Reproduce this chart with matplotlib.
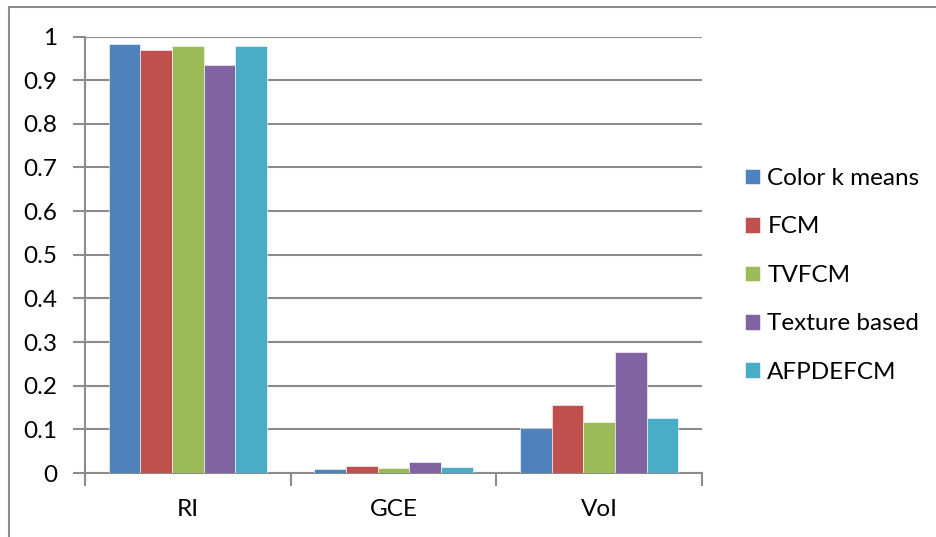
import matplotlib
matplotlib.use('AGG')
import matplotlib.pyplot as plt
import numpy as np
from matplotlib.lines import Line2D

plt.rcParams['font.family'] = ['Lato', 'DejaVu Sans']

categories = ['RI', 'GCE', 'VoI']
series_names = ['Color k means', 'FCM', 'TVFCM', 'Texture based', 'AFPDEFCM']
color_k_means = [0.982, 0.010, 0.104]
fcm = [0.969, 0.015, 0.155]
tvfcm = [0.979, 0.011, 0.117]
texture_based = [0.935, 0.026, 0.277]
afpdefcm = [0.978, 0.013, 0.125]
colors = ['#4F81BD', '#C0504D', '#9BBB59', '#8064A2', '#4BACC6']

series = [color_k_means, fcm, tvfcm, texture_based, afpdefcm]
grid_color = '#8c8c8c'
fs = 17.5

fig = plt.figure(figsize=(9.36, 5.37), dpi=100)
ax = fig.add_axes([85/936, 1 - 473/537, (702 - 85)/936, (473 - 36.5)/537])

x = np.arange(len(categories))
bar_w = 1 / 6.5
for i, (vals, name, c) in enumerate(zip(series, series_names, colors)):
    ax.bar(x + (i - 2) * bar_w, vals, bar_w, color=c, label=name,
           edgecolor='white', linewidth=0.4, zorder=3)

ax.set_xlim(-0.5, 2.5)
ax.set_ylim(0, 1)
ax.set_yticks(np.arange(0, 1.01, 0.1))
ax.set_yticklabels(['0'] + ['%.1f' % v for v in np.arange(0.1, 0.95, 0.1)] + ['1'])
ax.yaxis.grid(True, color=grid_color, linewidth=1.5, zorder=0)

# category labels centred, tick marks on the boundaries
ax.set_xticks(x)
ax.set_xticklabels(categories)
ax.set_xticks([-0.5, 0.5, 1.5, 2.5], minor=True)
ax.tick_params(axis='x', which='major', length=0, pad=19, labelsize=fs)
ax.tick_params(axis='x', which='minor', length=9, width=1.5, color=grid_color)
ax.tick_params(axis='y', length=9, width=1.5, color=grid_color, pad=11, labelsize=fs)

for side in ['top', 'right']:
    ax.spines[side].set_visible(False)
for side in ['left', 'bottom']:
    ax.spines[side].set_color(grid_color)
    ax.spines[side].set_linewidth(1.5)

ax.legend(loc='upper left', bbox_to_anchor=(745/936, 1 - 168/537),
          bbox_transform=fig.transFigure, frameon=False, fontsize=fs,
          handlelength=0.62, handleheight=0.62, handletextpad=0.3,
          labelspacing=1.13, borderaxespad=0, borderpad=0)

# chart frame edges
fig.add_artist(Line2D([9/936, 1], [1 - 7/537, 1 - 7/537], color='#8c8c8c', linewidth=1.5))
fig.add_artist(Line2D([9/936, 9/936], [0, 1 - 7/537], color='#8c8c8c', linewidth=1.5))

fig.savefig('out.png', dpi=100)
plt.close(fig)
